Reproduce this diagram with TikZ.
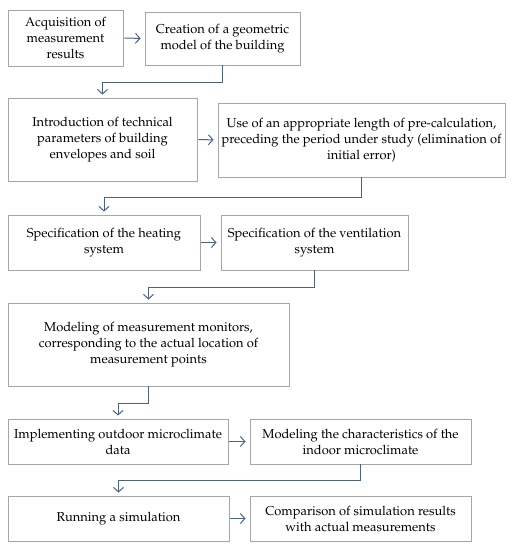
\documentclass[tikz,border=0pt]{standalone}
\usepackage[T1]{fontenc}
\usepackage{mathpazo}
\usetikzlibrary{arrows.meta}
\definecolor{boxgray}{HTML}{A6A6A6}
\definecolor{arrowblue}{HTML}{4A6384}
\tikzset{
  stepbox/.style={draw=boxgray, line width=0.9pt, align=center, inner sep=1pt,
    font=\fontsize{12.9}{16}\selectfont},
  harrow/.style={draw=arrowblue, line width=1pt, -{Straight Barb[length=4.5pt,width=10pt]},
    shorten <=1pt, shorten >=4pt},
  conn/.style={draw=arrowblue, line width=1pt, -{Straight Barb[length=4.5pt,width=10pt]},
    shorten >=3pt}
}
\begin{document}
\begin{tikzpicture}[x=1pt,y=-1pt]
\useasboundingbox (0,0) rectangle (516,550);
\node[stepbox, minimum width=115pt, minimum height=56pt] (b1) at (65.5,38)
  {Acquisition of\\measurement\\results};
\node[stepbox, minimum width=155pt, minimum height=53pt] (b2) at (222.5,38.5)
  {Creation of a geometric\\model of the building};
\node[stepbox, minimum width=189pt, minimum height=83pt] (b3) at (102.5,139.5)
  {Introduction of technical\\parameters of building\\envelopes and soil};
\node[stepbox, minimum width=287pt, minimum height=74pt] (b4) at (361.5,140)
  {Use of an appropriate length of pre-calculation,\\preceding the period under study (elimination of\\initial error)};
\node[stepbox, minimum width=192pt, minimum height=55pt] (b5) at (104,242.5)
  {Specification of the heating\\system};
\node[stepbox, minimum width=187pt, minimum height=55pt] (b6) at (314.5,242.5)
  {Specification of the ventilation\\system};
\node[stepbox, minimum width=281pt, minimum height=83pt] (b7) at (148.5,344.5)
  {Modeling of measurement monitors,\\corresponding to the actual location of\\measurement points};
\node[stepbox, minimum width=220pt, minimum height=45pt] (b8) at (118,441.5)
  {Implementing outdoor microclimate\\data};
\node[stepbox, minimum width=221pt, minimum height=45pt] (b9) at (360.5,441.5)
  {Modeling the characteristics of the\\indoor microclimate};
\node[stepbox, minimum width=221pt, minimum height=45pt] (b10) at (118.5,518.5)
  {Running a simulation};
\node[stepbox, minimum width=221pt, minimum height=45pt] (b11) at (360.5,518.5)
  {Comparison of simulation results\\with actual measurements};

\draw[harrow] (b1.east) -- (b2.west);
\draw[harrow] (b3.east) -- (b4.west);
\draw[harrow] (b5.east) -- (b6.west);
\draw[harrow] (b8.east) -- (b9.west);
\draw[harrow] (b10.east) -- (b11.west);

\draw[conn] (b2.south) -- ++(0,17) -| (b3.north);
\draw[conn] (b4.south) -- ++(0,20) -| (b5.north);
\draw[conn] (b6.south) -- ++(0,17) -| (b7.north);
\draw[conn] (b7.south) -- ++(0,17) -| (b8.north);
\draw[conn] (b9.south) -- ++(0,16) -| (b10.north);
\end{tikzpicture}
\end{document}
